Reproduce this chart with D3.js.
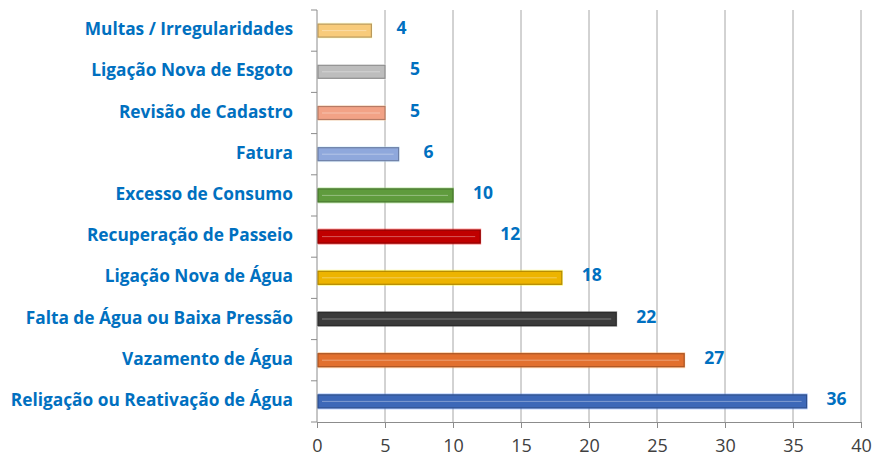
<!DOCTYPE html>
<html>
<script src='https://d3js.org/d3.v7.min.js'></script>
<style>
 body {margin: 0; background: #fff;}
 text {font-family: 'Open Sans', sans-serif;}
</style>
<body onload='init()'>
<svg width=875 height=460></svg>
<script>
var categories = ["Multas / Irregularidades", "Ligação Nova de Esgoto", "Revisão de Cadastro", "Fatura",
  "Excesso de Consumo", "Recuperação de Passeio", "Ligação Nova de Água",
  "Falta de Água ou Baixa Pressão", "Vazamento de Água", "Religação ou Reativação de Água"];
var values = [4, 5, 5, 6, 10, 12, 18, 22, 27, 36];
var colors = ["#F8CB7A", "#BDBDBD", "#F2A286", "#8FA8DC", "#5F9B3D", "#C00000", "#EDB400",
  "#3B3B3B", "#E2702E", "#3D68B8"];
var xTicks = [0, 5, 10, 15, 20, 25, 30, 35, 40];

function init() {
 var svg = d3.select("svg");
 var x = d3.scaleLinear().domain([0, 40]).range([317, 861]);
 var y = d3.scaleBand().domain(categories).range([10, 422]);
 var barH = 13;

 // vertical gridlines
 svg.append("g").selectAll("line").data(xTicks.slice(1)).enter().append("line")
  .attr("x1", d => x(d)).attr("x2", d => x(d))
  .attr("y1", 10).attr("y2", 422)
  .attr("stroke", "#a6a6a6").attr("stroke-width", 1);

 // bottom axis
 var xa = svg.append("g").attr("transform", "translate(0,422)")
  .call(d3.axisBottom(x).tickValues(xTicks).tickSize(6).tickPadding(11));
 xa.select(".domain").attr("stroke", "#8c8c8c");
 xa.selectAll(".tick line").attr("stroke", "#8c8c8c");
 xa.selectAll("text").attr("font-size", 18).attr("fill", "#404040")
  .style("font-family", "'Open Sans', sans-serif");

 // left axis line with ticks between categories
 svg.append("line").attr("x1", x(0)).attr("x2", x(0)).attr("y1", 10).attr("y2", 422)
  .attr("stroke", "#8c8c8c");
 var bounds = categories.map(c => y(c)).concat([y.range()[1]]);
 svg.append("g").selectAll("line").data(bounds).enter().append("line")
  .attr("x1", x(0) - 6).attr("x2", x(0))
  .attr("y1", d => d).attr("y2", d => d)
  .attr("stroke", "#8c8c8c");

 // category labels
 svg.append("g").selectAll("text").data(categories).enter().append("text")
  .attr("x", 293).attr("y", d => y(d) + y.bandwidth() / 2)
  .attr("text-anchor", "end").attr("dominant-baseline", "middle")
  .attr("font-size", 17.3).attr("font-weight", "bold").attr("fill", "#0070C0")
  .text(d => d);

 // bars
 var bars = svg.append("g").selectAll("g").data(values).enter().append("g")
  .attr("transform", (d, i) => "translate(0," + (y(categories[i]) + y.bandwidth() / 2) + ")");
 bars.append("rect")
  .attr("x", x(0) + 1).attr("y", -barH / 2 - 1.5)
  .attr("width", d => x(d) - x(0)).attr("height", barH + 3)
  .attr("fill", (d, i) => d3.color(colors[i]).brighter(0.9)).attr("opacity", 0.45);
 bars.append("rect")
  .attr("x", x(0) + 1).attr("y", -barH / 2)
  .attr("width", d => x(d) - x(0) - 1).attr("height", barH)
  .attr("fill", (d, i) => colors[i])
  .attr("stroke", (d, i) => d3.color(colors[i]).darker(0.8)).attr("stroke-width", 1.2);
 bars.append("line")
  .attr("x1", x(0) + 5).attr("x2", d => x(d) - 5)
  .attr("y1", 0).attr("y2", 0)
  .attr("stroke", "#ffffff").attr("stroke-opacity", 0.35).attr("stroke-width", 1);

 // value labels
 svg.append("g").selectAll("text").data(values).enter().append("text")
  .attr("x", d => x(d) + 30)
  .attr("y", (d, i) => y(categories[i]) + y.bandwidth() / 2 - 1)
  .attr("text-anchor", "middle").attr("dominant-baseline", "middle")
  .attr("font-size", 17.5).attr("font-weight", "bold").attr("fill", "#0070C0")
  .text(d => d);
}
</script>
</body>
</html>
